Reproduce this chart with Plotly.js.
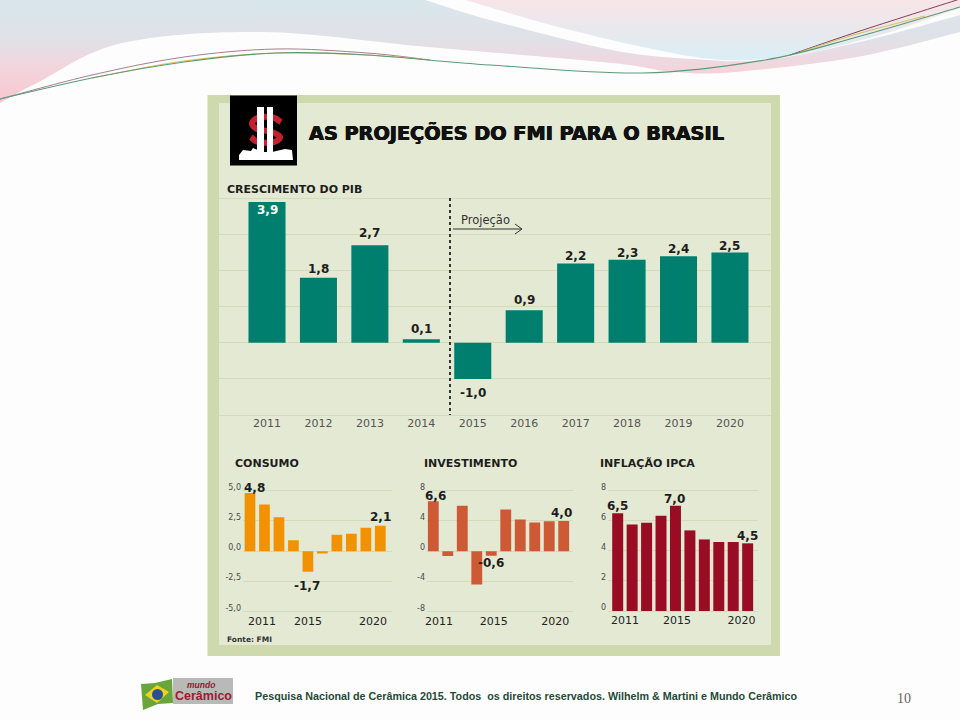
<!DOCTYPE html>
<html><head><meta charset="utf-8">
<script src="https://cdn.plot.ly/plotly-3.0.1.min.js"></script>
<style>html,body{margin:0;padding:0;background:#fdfdfd}#c{width:960px;height:720px}</style>
</head><body><div id="c"></div>
<script>
// ---------- data ----------
const years = [2011,2012,2013,2014,2015,2016,2017,2018,2019,2020];
const pibValues = [3.9,1.8,2.7,0.1,-1.0,0.9,2.2,2.3,2.4,2.5];
const consumoValues = [4.8,3.85,2.8,0.9,-1.7,-0.2,1.35,1.45,1.93,2.1];
const investimentoValues = [6.6,-0.65,6.0,-4.4,-0.6,5.5,4.2,3.8,3.95,4.0];
const inflacaoValues = [6.5,5.76,5.87,6.34,7.0,5.36,4.76,4.59,4.59,4.5];
const smallYearLabels = ['2011','2015','2020'];
const consumoTicks = [-5,-2.5,0,2.5,5];
const consumoTickText = ['-5,0','-2,5','0,0','2,5','5,0'];
const investimentoTicks = [-8,-4,0,4,8];
const inflacaoTicks = [0,2,4,6,8];
const pibTicks = [-2,-1,0,1,2,3,4];

// ---------- helpers ----------
const W=960,H=720;
const xd=(a,b)=>[a/W,b/W], yd=(t,b)=>[1-b/H,1-t/H];
const px=x=>x/W, py=y=>1-y/H;
const fmt=v=>v.toFixed(1).replace('.',',');
const xRange=(l,r,c0,step)=>[(l-c0)/step,(r-c0)/step];
const FONT='"DejaVu Sans", sans-serif';
const INK='#1d1d1b';

function txt(text,x,y,size,opt={}){
  return Object.assign({text,xref:'paper',yref:'paper',x:px(x),y:py(y),showarrow:false,
    xanchor:'left',yanchor:'middle',font:{family:FONT,size,color:INK}},opt);
}
function valLabel(xa,ya,i,val,dx,dy,color,size){
  return {text:'<b>'+fmt(val)+'</b>',xref:xa,yref:ya,x:i,y:val,xshift:dx,yshift:dy,showarrow:false,
    xanchor:'center',yanchor:'middle',font:{family:FONT,size:size||12,color:color||INK}};
}
function rect(x0,y0,x1,y1,fill,layer){
  return {type:'rect',xref:'paper',yref:'paper',x0:px(x0),x1:px(x1),y0:py(y0),y1:py(y1),
    fillcolor:fill,line:{width:0},layer:layer||'below'};
}
function pth(points,fill,stroke,width){
  const d=points.map((p,i)=>(i?'L':'M')+px(p[0])+','+py(p[1])).join(' ')+(fill?' Z':'');
  return {type:'path',xref:'paper',yref:'paper',path:d,fillcolor:fill||'rgba(0,0,0,0)',
    line:{width:width||0,color:stroke||'rgba(0,0,0,0)'},layer:'above'};
}

// ---------- decorative slide background ----------
function smooth(p){
  let d='';
  for(let i=0;i<p.length-1;i++){
    const a=p[Math.max(i-1,0)],b=p[i],c=p[i+1],e=p[Math.min(i+2,p.length-1)];
    d+=`C${b[0]+(c[0]-a[0])/6},${b[1]+(c[1]-a[1])/6} ${c[0]-(e[0]-b[0])/6},${c[1]-(e[1]-b[1])/6} ${c[0]},${c[1]} `;
  }
  return d;
}
const upperEdge=[[425,0],[490,20],[612,50],[692,59],[765,60],[860,42],[960,15]];
const lowerEdge=[[960,32],[857,57],[735,72],[673,72],[612,63],[428,47],[263,32],[122,43],[37,83],[0,103]];
const blueEdge=[[465,0],[551,25],[643,47],[722,60],[796,55],[880,35],[960,8]];
const greenLine=[[0,99],[92,78],[184,62],[276,53],[367,55],[490,65],[643,73],[765,60],[857,37],[960,7]];
const purpleLine=[[0,99],[92,75],[184,57],[276,49],[367,53],[430,60]];
const purpleLine2=[[790,55],[857,32],[960,-1]];
const yellowLine=[[92,78],[184,61],[276,53],[367,55],[420,59]];
const yellowLine2=[[800,52],[857,34],[925,16]];
const svg=`<svg xmlns="http://www.w3.org/2000/svg" width="960" height="720" viewBox="0 0 960 720">
<defs>
<linearGradient id="a" gradientUnits="userSpaceOnUse" x1="0" y1="0" x2="0" y2="105">
<stop offset="0" stop-color="#d8e6ec"/><stop offset="0.38" stop-color="#e0e1e7"/><stop offset="0.62" stop-color="#f1d6de"/><stop offset="1" stop-color="#f9c6cf"/></linearGradient>
<linearGradient id="b" gradientUnits="userSpaceOnUse" x1="0" y1="0" x2="0" y2="62">
<stop offset="0" stop-color="#f7e5e9"/><stop offset="0.45" stop-color="#eae8ec"/><stop offset="1" stop-color="#d9eff6"/></linearGradient>
</defs>
<path fill="url(#a)" d="M0,0 L425,0 ${smooth(upperEdge)} L960,32 ${smooth(lowerEdge)} Z"/>
<path fill="url(#b)" d="M465,0 ${smooth(blueEdge)} L960,0 Z"/>
<path fill="none" stroke="#a97c92" stroke-width="1" d="M0,99 ${smooth(purpleLine)}"/>
<path fill="none" stroke="#8c3a55" stroke-width="1" d="M790,55 ${smooth(purpleLine2)}"/>
<path fill="none" stroke="#e0bd4c" stroke-width="1" d="M92,78 ${smooth(yellowLine)}"/>
<path fill="none" stroke="#d8c04e" stroke-width="1" d="M800,52 ${smooth(yellowLine2)}"/>
<path fill="none" stroke="#5d9a78" stroke-width="1.1" d="M0,99 ${smooth(greenLine)}"/>
</svg>`;
const bgImage='data:image/svg+xml;charset=utf-8,'+encodeURIComponent(svg);

// ---------- layout ----------
const GRID='#d2dbba';
const tickFont={family:FONT,size:8,color:'#4a4a48'};
const EDGE=2; // px of room around each plot so the outermost gridlines are kept
function yax(top,bot,range,tickvals,ticktext,anchor,showLabels){
  const perPx=(range[1]-range[0])/(bot-top);
  return {domain:yd(top-EDGE,bot+EDGE),range:[range[0]-EDGE*perPx,range[1]+EDGE*perPx],
    tickmode:'array',tickvals,ticktext,showticklabels:showLabels,anchor,
    showgrid:true,gridcolor:GRID,gridwidth:1,zeroline:false,showline:false,ticks:'',tickfont:tickFont,
    ticklabelshift:-4,ticklabelstandoff:1,fixedrange:true};
}
function xax(domain,range,tickvals,ticktext,anchor,color,standoff){
  return {domain,range,tickmode:'array',tickvals,ticktext,anchor,showgrid:false,zeroline:false,showline:false,
    ticks:'',tickangle:0,tickfont:{family:FONT,size:11,color},ticklabelstandoff:standoff,fixedrange:true};
}
function bars(y,color,xa,ya,gap){
  return {type:'bar',x:years.map((_,i)=>i),y,xaxis:xa,yaxis:ya,width:gap,
    marker:{color,line:{width:0}},hoverinfo:'skip',showlegend:false};
}
const data=[
  bars(pibValues,'#007f6e','x','y',0.72),
  bars(consumoValues,'#f39200','x2','y2',0.74),
  bars(investimentoValues,'#cd5a35','x3','y3',0.75),
  bars(inflacaoValues,'#9a0b24','x4','y4',0.76)
];

const pibShift=[-8,9,12,10,-14,10,7,7,7,7];
const annotations=[
  txt('<b>AS PROJEÇÕES DO FMI PARA O BRASIL</b>',307,133,19.25,{font:{family:FONT,size:19.25,color:'#111',shadow:'0.5px 0 0 #111, -0.5px 0 0 #111, 0 0.4px 0 #111'}}),
  txt('<b>CRESCIMENTO DO PIB</b>',225,190,11),
  txt('<b>CONSUMO</b>',233,463,11),
  txt('<b>INVESTIMENTO</b>',422,463,11),
  txt('<b>INFLAÇÃO IPCA</b>',598,463,11),
  txt('<b>Fonte: FMI</b>',225,639,7.5,{font:{family:FONT,size:7.5,color:'#333'}}),
  txt('Projeção',459,220,11.5,{font:{family:FONT,size:11.5,color:'#333'}}),
  txt('<b>Pesquisa Nacional de Cerâmica 2015. Todos  os direitos reservados. Wilhelm &amp; Martini e Mundo Cerâmico</b>',253,696,10.75,
      {font:{family:'"Liberation Sans", Arial, sans-serif',size:10.75,color:'#1f4a38'}}),
  txt('10',895,698,14,{font:{family:'"Liberation Serif", serif',size:14,color:'#666'}}),
  txt('<b><i>mundo</i></b>',185,685,8.5,{font:{family:'"Liberation Sans", sans-serif',size:8.5,color:'#8c1c2c'}}),
  txt('<b>Cerâmico</b>',173,696,12.5,{font:{family:'"Liberation Sans", sans-serif',size:12.5,color:'#a01a2e'}})
];
pibValues.forEach((v,i)=>annotations.push(valLabel('x','y',i,v,0,pibShift[i],i===0?'#fff':INK,12)));
annotations.push(valLabel('x2','y2',0,consumoValues[0],4,5));
annotations.push(valLabel('x2','y2',4,consumoValues[4],-1,-14));
annotations.push(valLabel('x2','y2',9,consumoValues[9],0,9));
annotations.push(valLabel('x3','y3',0,investimentoValues[0],2,5));
annotations.push(valLabel('x3','y3',4,investimentoValues[4],0,-7));
annotations.push(valLabel('x3','y3',9,investimentoValues[9],-2,8));
annotations.push(valLabel('x4','y4',0,inflacaoValues[0],0,7));
annotations.push(valLabel('x4','y4',4,inflacaoValues[4],-1,7));
annotations.push(valLabel('x4','y4',9,inflacaoValues[9],0,7));

const dollarCurve=[[281,122],[273,117.5],[259,117.5],[252,123],[257,129],[272,132],[280,137],[274,142],[258,142],[251,137]].map(p=>[px(p[0]),py(p[1])]);
const shapes=[
  rect(207.5,95,780,656,'#cfd9ae'),
  rect(219,103,771,645,'#e4e9d4'),
  rect(230,95.5,297,165.5,'#000','above'),
  // dollar symbol of the header logo
  {type:'path',xref:'paper',yref:'paper',path:'M'+dollarCurve[0][0]+','+dollarCurve[0][1]+' '+smooth(dollarCurve),
   fillcolor:'rgba(0,0,0,0)',line:{color:'#c4212f',width:6},layer:'above'},
  pth([[257,107],[264,107],[264,152],[257,152]],'#fff'),
  pth([[267,107],[273,107],[273,152],[267,152]],'#fff'),
  pth([[243,150],[251,151],[253,148],[263,152],[272,152],[285,149],[292,150],[293,160],[239,160],[239,155]],'#fff'),
  // "Projeção" marker
  {type:'line',xref:'paper',yref:'paper',x0:px(450),x1:px(450),y0:py(198),y1:py(415),line:{color:'#222',width:1.8,dash:'dot'},layer:'above'},
  {type:'line',xref:'paper',yref:'paper',x0:px(453),x1:px(522),y0:py(229),y1:py(229),line:{color:'#333',width:1},layer:'above'},
  pth([[515,224],[522,229],[515,234]],null,'#333',1),
  // footer logo
  rect(173,678,233,704,'#b9b9b7'),
  pth([[141,684],[155,683],[172,679],[173,703],[158,704],[143,710]],'#68a53a'),
  pth([[145,695],[157,685],[169,692],[157,703]],'#f0d11f'),
  {type:'circle',xref:'paper',yref:'paper',x0:px(152),x1:px(163),y0:py(700),y1:py(689),fillcolor:'#2b4f94',line:{width:0},layer:'above'}
];

const layout={
  width:W,height:H,margin:{l:0,r:0,t:0,b:0},autosize:false,
  paper_bgcolor:'#fdfdfd',plot_bgcolor:'rgba(0,0,0,0)',
  barmode:'overlay',showlegend:false,hovermode:false,
  images:[{source:bgImage,xref:'paper',yref:'paper',x:0,y:1,sizex:1,sizey:1,sizing:'stretch',layer:'below',xanchor:'left',yanchor:'top'}],
  xaxis: xax(xd(219,771),xRange(219,771,267,51.44),years.map((_,i)=>i),years.map(String),'y','#555',-2),
  yaxis: yax(198.4,415,[-2,4],pibTicks,pibTicks.map(String),'x',false),
  xaxis2:xax(xd(243,392),xRange(243,392,250,14.48),[0.83,4,8.5],smallYearLabels,'y2','#222',-1),
  yaxis2:yax(490.7,611.7,[-5,5],consumoTicks,consumoTickText,'x2',true),
  xaxis3:xax(xd(427,573),xRange(427,573,433.3,14.49),[0.39,4.18,8.42],smallYearLabels,'y3','#222',-1),
  yaxis3:yax(490.7,611.7,[-8,8],investimentoTicks,investimentoTicks.map(String),'x3',true),
  xaxis4:xax(xd(608,758),xRange(608,758,617.7,14.44),[0.51,4.1,8.57],smallYearLabels,'y4','#222',-1),
  yaxis4:yax(490.7,611,[0,8],inflacaoTicks,inflacaoTicks.map(String),'x4',true),
  annotations,shapes
};
Plotly.newPlot('c',data,layout,{displayModeBar:false,staticPlot:true});
</script></body></html>
